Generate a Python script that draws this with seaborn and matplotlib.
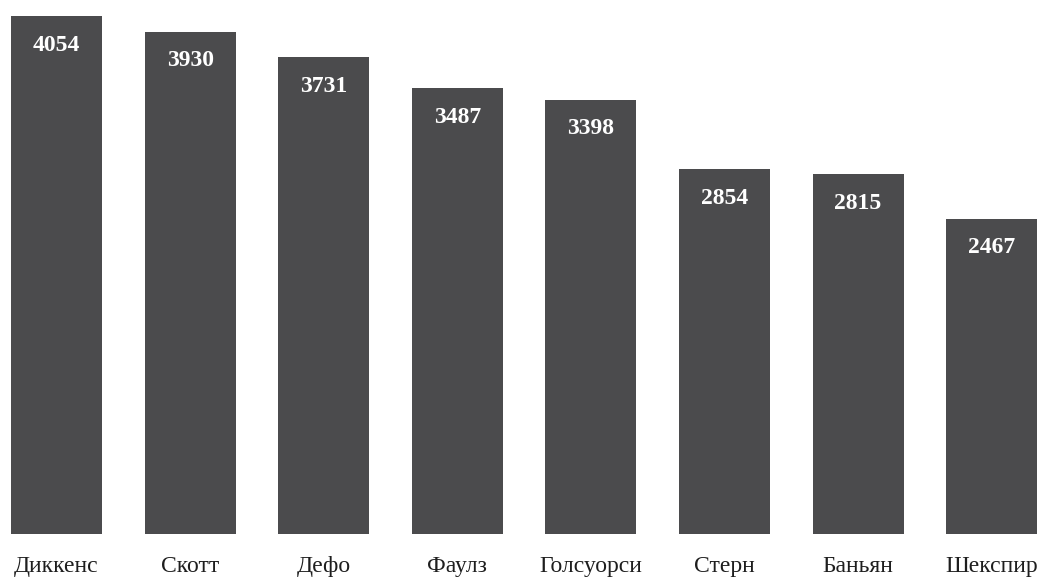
import matplotlib
matplotlib.use("Agg")
import matplotlib.pyplot as plt
import seaborn as sns
import pandas as pd

# Data
authors = ["Диккенс", "Скотт", "Дефо", "Фаулз", "Голсуорси", "Стерн", "Баньян", "Шекспир"]
counts = [4054, 3930, 3731, 3487, 3398, 2854, 2815, 2467]

bar_color = "#4b4b4d"

sns.set_style("white")
plt.rcParams["font.family"] = ["Liberation Serif", "DejaVu Serif"]

df = pd.DataFrame({"author": authors, "count": counts})

fig = plt.figure(figsize=(10.41, 5.78), dpi=100)
ax = fig.add_axes([0, 44 / 578, 1, 534 / 578])

sns.barplot(data=df, x="author", y="count", color=bar_color, saturation=1,
            width=0.68, linewidth=0, ax=ax)

ax.set_xlim(-0.423, 7.369)
ax.set_ylim(0, 4178)

# value labels inside the top of each bar
for i, v in enumerate(counts):
    ax.annotate(str(v), xy=(i, v), xytext=(0, -21), textcoords="offset points",
                ha="center", va="center", color="white", fontsize=17,
                fontweight="bold")

ax.set_xlabel("")
ax.set_ylabel("")
ax.set_yticks([])
ax.tick_params(axis="x", length=0, pad=15.5, labelsize=17, labelcolor="#1e1e1e")
sns.despine(ax=ax, left=True, bottom=True)

fig.savefig("out.png", dpi=100)
